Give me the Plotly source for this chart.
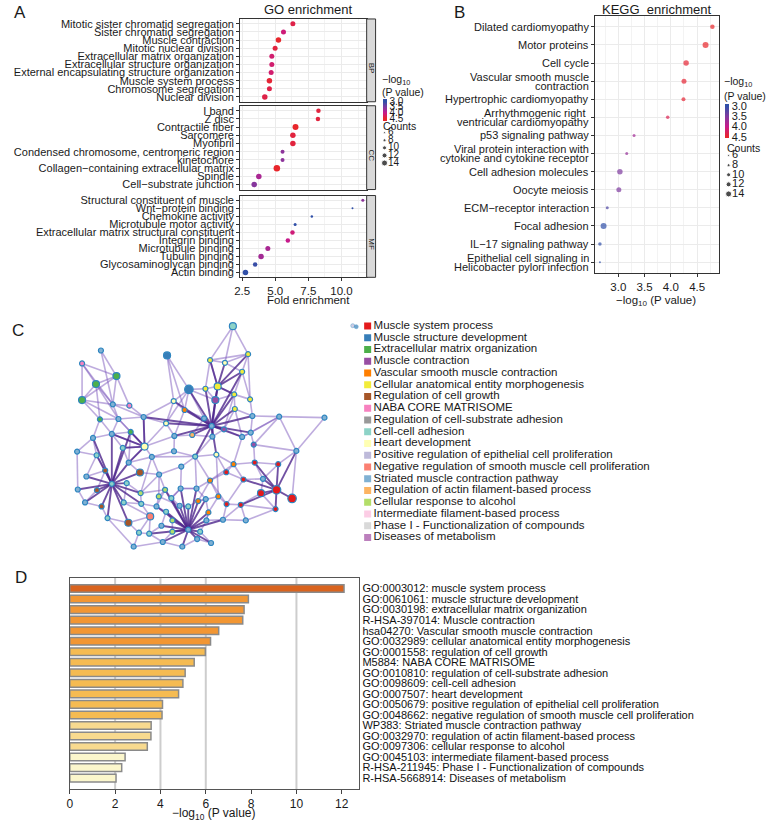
import plotly.graph_objects as go

W, H = 767, 824
FONT = "Liberation Sans, Arial, sans-serif"
MINUS = "\u2212"


def px(x):
    return x / W


def py(y):
    return 1 - y / H


# ---------------- Panel A : GO enrichment (facets BP / CC / MF) ----------------
bp_terms = ["Mitotic sister chromatid segregation", "Sister chromatid segregation", "Muscle contraction",
            "Mitotic nuclear division", "Extracellular matrix organization", "Extracellular structure organization",
            "External encapsulating structure organization", "Muscle system process", "Chromosome segregation",
            "Nuclear division"]
bp_fold = [6.33, 5.62, 5.24, 4.99, 4.74, 4.74, 4.69, 4.56, 4.56, 4.21]
bp_logp = [4.35, 4.10, 4.55, 4.40, 4.15, 4.15, 4.15, 4.45, 4.35, 4.35]
bp_count = [12, 12, 13, 12, 12, 12, 12, 13, 12, 13]

cc_terms = ["I band", "Z disc", "Contractile fiber", "Sarcomere", "Myofibril",
            "Condensed chromosome, centromeric region", "kinetochore",
            "Collagen" + MINUS + "containing extracellular matrix", "Spindle", "Cell" + MINUS + "substrate junction"]
cc_fold = [8.26, 8.22, 6.53, 6.33, 6.33, 5.55, 5.55, 5.12, 3.76, 3.41]
cc_logp = [4.40, 4.40, 4.50, 4.40, 4.40, 3.60, 3.60, 4.70, 3.80, 3.55]
cc_count = [11, 11, 14, 13, 13, 10, 10, 15, 13, 13]

mf_terms = ["Structural constituent of muscle", "Wnt" + MINUS + "protein binding", "Chemokine activity",
            "Microtubule motor activity", "Extracellular matrix structural constituent", "Integrin binding",
            "Microtubule binding", "Tubulin binding", "Glycosaminoglycan binding", "Actin binding"]
mf_fold = [11.61, 10.83, 7.76, 6.50, 6.30, 5.95, 4.44, 3.93, 3.48, 2.75]
mf_logp = [3.60, 2.95, 2.95, 3.00, 4.10, 4.00, 3.80, 3.75, 3.05, 2.95]
mf_count = [8, 6, 7, 8, 11, 11, 12, 13, 11, 13]

facet_names = ["BP", "CC", "MF"]
fold_ticks = [2.5, 5.0, 7.5, 10.0]
fold_minor = [3.75, 6.25, 8.75, 11.25]

# ---------------- Panel B : KEGG enrichment ----------------
kegg_terms = ["Dilated cardiomyopathy", "Motor proteins", "Cell cycle", "Vascular smooth muscle\ncontraction",
              "Hypertrophic cardiomyopathy", "Arrhythmogenic right \nventricular cardiomyopathy",
              "p53 signaling pathway", "Viral protein interaction with\ncytokine and cytokine receptor",
              "Cell adhesion molecules", "Oocyte meiosis", "ECM" + MINUS + "receptor interaction", "Focal adhesion",
              "IL" + MINUS + "17 signaling pathway", "Epithelial cell signaling in\nHelicobacter pylori infection"]
kegg_logp = [4.79, 4.66, 4.29, 4.25, 4.24, 3.94, 3.30, 3.16, 3.03, 3.01, 2.79, 2.72, 2.65, 2.65]
kegg_color = [4.70, 4.60, 4.45, 4.45, 4.45, 4.30, 3.75, 3.65, 3.50, 3.50, 3.20, 3.00, 3.00, 3.00]
kegg_count = [11, 14, 13, 12, 10, 9, 8, 8, 13, 12, 8, 14, 9, 6]
kegg_ticks = [3.0, 3.5, 4.0, 4.5]
kegg_minor = [2.75, 3.25, 3.75, 4.25, 4.75]

legend_counts = [6, 8, 10, 12, 14]
legend_logp = [3.0, 3.5, 4.0, 4.5]

# ---------------- Panel C : network + legend ----------------
net_groups = ["Muscle system process", "Muscle structure development", "Extracellular matrix organization",
              "Muscle contraction", "Vascular smooth muscle contraction", "Cellular anatomical entity morphogenesis",
              "Regulation of cell growth", "NABA CORE MATRISOME", "Regulation of cell-substrate adhesion",
              "Cell-cell adhesion", "Heart development", "Positive regulation of epithelial cell proliferation",
              "Negative regulation of smooth muscle cell proliferation", "Striated muscle contraction pathway",
              "Regulation of actin filament-based process", "Cellular response to alcohol",
              "Intermediate filament-based process", "Phase I - Functionalization of compounds",
              "Diseases of metabolism"]
net_colors = ["#e41a1c", "#377eb8", "#4daf4a", "#984ea3", "#ff7f00", "#f2ec3a", "#a65628", "#f781bf", "#999999",
              "#8dd3c7", "#ffffb3", "#bebada", "#fb8072", "#80b1d3", "#fdb462", "#b3de69", "#fccde5", "#d9d9d9",
              "#bc80bd"]

# (layout x, layout y, group index, size class 1=small 2=medium 3=large)
network_nodes = [
    (686, 48, 9, 2), (287, 121, 13, 1), (487, 136, 1, 2), (230, 160, 7, 1), (334, 198, 2, 2),
    (272, 222, 2, 2), (230, 270, 2, 2), (553, 238, 1, 3), (640, 229, 5, 2), (603, 236, 5, 1),
    (617, 150, 5, 1), (662, 158, 10, 1), (732, 132, 5, 1), (714, 185, 5, 1), (633, 270, 3, 2),
    (507, 273, 10, 1), (323, 283, 13, 1), (373, 287, 7, 1), (284, 328, 2, 1), (340, 327, 13, 1),
    (416, 321, 13, 1), (484, 340, 10, 1), (540, 300, 4, 1), (599, 325, 13, 1), (622, 348, 13, 1),
    (659, 358, 3, 1), (692, 297, 5, 1), (738, 268, 5, 1), (690, 253, 5, 1), (745, 318, 13, 1),
    (826, 320, 13, 1), (963, 323, 13, 1), (878, 423, 13, 1), (263, 384, 13, 1), (320, 372, 13, 1),
    (377, 366, 2, 1), (419, 410, 10, 2), (353, 414, 9, 1), (215, 425, 13, 1), (274, 436, 9, 1),
    (441, 441, 13, 1), (509, 378, 13, 1), (563, 375, 14, 1), (624, 380, 13, 1), (572, 440, 9, 1),
    (636, 434, 10, 1), (714, 381, 13, 1), (740, 368, 13, 1), (749, 404, 3, 1), (371, 458, 13, 1),
    (405, 488, 6, 2), (300, 482, 6, 1), (243, 500, 13, 1), (217, 539, 13, 1), (275, 541, 6, 1),
    (320, 522, 9, 1), (365, 520, 9, 1), (463, 494, 13, 1), (239, 578, 13, 1), (289, 590, 6, 1),
    (356, 578, 9, 1), (407, 550, 15, 1), (409, 582, 9, 1), (307, 625, 9, 1), (370, 639, 6, 2),
    (436, 620, 12, 2), (402, 669, 9, 1), (386, 711, 13, 1), (455, 590, 13, 1), (481, 540, 15, 1),
    (500, 565, 9, 1), (528, 536, 13, 1), (576, 536, 13, 1), (617, 512, 4, 1), (666, 487, 0, 1),
    (688, 463, 4, 1), (718, 509, 0, 1), (752, 458, 0, 1), (777, 507, 13, 1), (823, 463, 0, 1),
    (771, 550, 0, 2), (818, 540, 0, 3), (865, 566, 0, 3), (815, 598, 0, 1), (725, 632, 13, 1),
    (710, 585, 0, 1), (667, 583, 0, 1), (642, 560, 4, 1), (604, 568, 13, 1), (581, 574, 4, 1),
    (551, 590, 9, 1), (525, 588, 13, 1), (484, 606, 9, 1), (503, 632, 15, 1), (551, 660, 13, 1),
    (587, 666, 9, 1), (578, 688, 13, 1), (612, 608, 4, 1), (606, 632, 13, 1), (656, 630, 13, 1),
    (503, 666, 15, 1), (474, 697, 13, 1), (533, 711, 13, 1), (620, 700, 13, 1), (433, 672, 9, 1),
    (470, 648, 13, 1), (462, 560, 15, 1), (508, 424, 13, 1), (530, 470, 13, 1),
]

# strong links: hub node -> partners (1-based node numbers)
hub_edges = {
    25: [15, 24, 26, 27, 22, 23, 43, 44, 45, 46, 47, 42, 16, 9, 10, 8, 21, 48, 30, 14, 29],
    56: [52, 53, 54, 55, 57, 59, 60, 61, 62, 50, 38, 40, 34, 35, 64, 63, 51, 36, 65],
    95: [91, 92, 93, 94, 96, 97, 98, 99, 100, 101, 102, 103, 104, 105, 106, 89, 90, 69, 70, 71, 72, 73],
    82: [80, 81, 83, 84, 79, 77, 78, 86, 33],
    37: [35, 36, 38, 21, 50],
    9: [11, 12, 13, 14, 29, 15],
}
# weaker links (1-based node numbers)
link_edges = [
    (4, 6), (4, 7), (4, 5), (5, 6), (6, 7), (5, 7), (2, 5), (5, 17), (6, 17), (7, 17), (17, 18), (17, 20),
    (19, 20), (6, 19), (5, 18), (7, 20), (1, 11), (1, 13), (1, 12), (11, 12), (12, 13), (13, 14), (11, 10),
    (10, 9), (9, 15), (15, 29), (9, 29), (13, 28), (14, 28), (28, 29), (16, 8), (3, 8), (8, 15), (8, 24),
    (16, 23), (23, 24), (29, 27), (27, 30), (28, 30), (74, 76), (75, 76), (76, 78), (75, 77), (77, 79),
    (78, 80), (79, 81), (81, 84), (84, 86), (86, 87), (87, 88), (88, 74), (77, 87), (85, 86), (85, 100),
    (76, 47), (78, 49), (49, 48), (31, 49), (31, 33), (32, 33), (31, 32), (33, 83), (33, 80), (48, 31),
    (75, 46), (37, 21), (37, 41), (37, 42), (37, 38), (37, 36), (37, 35), (22, 42), (22, 21), (21, 20),
    (41, 58), (58, 51), (51, 50), (50, 38), (41, 62), (62, 63), (63, 69), (69, 70), (70, 71), (71, 72),
    (72, 73), (73, 74), (45, 73), (45, 46), (44, 45), (46, 88), (109, 58), (109, 72), (109, 45), (16, 22),
    (3, 16), (41, 45), (58, 70), (107, 70), (107, 69), (107, 92), (65, 66), (66, 67), (67, 68), (64, 65),
    (66, 105), (105, 102), (61, 66), (63, 66), (57, 62), (36, 50), (34, 39), (39, 40), (40, 53), (39, 54),
    (35, 36), (34, 35), (20, 35), (19, 34), (88, 90), (89, 98), (98, 99), (99, 100), (86, 100), (90, 74),
    (87, 74), (108, 42), (108, 45), (108, 41), (20, 36), (8, 22), (15, 44), (26, 47), (24, 43),
    (2, 17), (4, 17), (6, 20), (7, 19), (19, 35), (17, 21), (18, 21), (20, 37), (21, 16), (22, 37),
    (3, 23), (8, 23), (8, 10), (9, 11), (10, 15), (11, 13), (12, 14), (14, 29), (29, 26), (26, 27),
    (27, 47), (30, 48), (30, 31), (31, 47), (44, 26), (43, 44), (42, 43), (23, 42), (41, 50), (37, 50),
    (38, 35), (34, 40), (40, 52), (52, 53), (52, 55), (55, 59), (59, 60), (60, 64), (54, 59), (57, 61),
    (61, 63), (62, 70), (62, 58), (58, 107), (69, 93), (93, 94), (94, 101), (101, 102), (102, 103),
    (103, 97), (97, 104), (104, 96), (96, 99), (99, 98), (98, 88), (90, 89), (89, 73), (73, 72), (72, 71),
    (71, 92), (92, 91), (91, 90), (100, 87), (85, 84), (81, 86), (80, 79), (78, 79), (76, 77), (75, 74),
    (74, 45), (46, 76), (47, 48), (49, 33), (105, 106), (106, 93), (67, 105), (65, 67), (64, 68), (68, 102),
]

# ---------------- Panel D : Metascape bar chart ----------------
d_terms = ["GO:0003012: muscle system process", "GO:0061061: muscle structure development",
           "GO:0030198: extracellular matrix organization", "R-HSA-397014: Muscle contraction",
           "hsa04270: Vascular smooth muscle contraction", "GO:0032989: cellular anatomical entity morphogenesis",
           "GO:0001558: regulation of cell growth", "M5884: NABA CORE MATRISOME",
           "GO:0010810: regulation of cell-substrate adhesion", "GO:0098609: cell-cell adhesion",
           "GO:0007507: heart development", "GO:0050679: positive regulation of epithelial cell proliferation",
           "GO:0048662: negative regulation of smooth muscle cell proliferation",
           "WP383: Striated muscle contraction pathway", "GO:0032970: regulation of actin filament-based process",
           "GO:0097306: cellular response to alcohol", "GO:0045103: intermediate filament-based process",
           "R-HSA-211945: Phase I - Functionalization of compounds", "R-HSA-5668914: Diseases of metabolism"]
d_logp = [12.10, 7.88, 7.69, 7.63, 6.57, 6.21, 5.98, 5.49, 5.09, 4.99, 4.80, 4.09, 4.07, 3.59, 3.58, 3.42,
          2.44, 2.29, 2.04]
d_ticks = [0, 2, 4, 6, 8, 10, 12]
d_grid = [2, 4, 6, 10]


# ---------------- helpers ----------------
def count_size(c):
    return 2.0 + (c - 6) * 0.5


def colorscale(lo, hi):
    # colours are mapped on the negated value so that the colour bar reads 3.0 at top
    stops = [(4.5, "#e8262b"), (4.0, "#c71a8b"), (3.5, "#7f3a9f"), (3.0, "#3150a8")]
    cs = [[0.0, "#e8262b"]]
    for v, c in stops:
        p = (hi - v) / (hi - lo)
        if 0 < p < 1:
            cs.append([p, c])
    cs.append([1.0, "#3150a8"])
    return cs


def bar_color(v):
    if v >= 10:
        return "#d9631e"
    if v >= 6:
        return "#f29633"
    if v >= 4:
        return "#f5bb52"
    if v >= 3:
        return "#f8da8f"
    return "#fbf6cc"


fig = go.Figure()
annotations = []
shapes = []
TXT = "#1a1a1a"

# ---- Panel A traces / axes
a_facets = [(bp_terms, bp_fold, bp_logp, bp_count), (cc_terms, cc_fold, cc_logp, cc_count),
            (mf_terms, mf_fold, mf_logp, mf_count)]
a_rows = [(18, 101), (105, 189), (195, 277)]
A_X0, A_X1 = 236, 363.5
for i, (terms, fold, logp, cnt) in enumerate(a_facets):
    n = "" if i == 0 else str(i + 1)
    fig.add_trace(go.Scatter(
        x=fold, y=terms, mode="markers", showlegend=False, xaxis="x" + n, yaxis="y" + n,
        marker=dict(size=[count_size(c) for c in cnt], color=[-v for v in logp], coloraxis="coloraxis",
                    line=dict(width=0), opacity=1)))
    top, bot = a_rows[i]
    last = i == 2
    fig.update_layout(**{
        "xaxis" + n: dict(domain=[px(A_X0), px(A_X1)], range=[2.35, 11.9], anchor="y" + n,
                          tickvals=fold_ticks, ticktext=["%.1f" % t for t in fold_ticks],
                          showticklabels=last, ticks="outside" if last else "", ticklen=3, tickcolor="#333",
                          showgrid=True, gridcolor="#ebebeb", gridwidth=1, zeroline=False,
                          minor=dict(tickvals=fold_minor, showgrid=True, gridcolor="#f3f3f3", gridwidth=0.6),
                          showline=True, mirror=True, linecolor="#333", linewidth=1,
                          tickfont=dict(size=11.5, color=TXT)),
        "yaxis" + n: dict(domain=[py(bot), py(top)], anchor="x" + n, type="category",
                          categoryorder="array", categoryarray=terms, range=[9.6, -0.6],
                          tickmode="array", tickvals=terms, ticks="outside", ticklen=3, tickcolor="#333",
                          showgrid=True, gridcolor="#ebebeb", gridwidth=1, zeroline=False,
                          showline=True, mirror=True, linecolor="#333", linewidth=1,
                          tickfont=dict(size=11, color=TXT)),
    })
    shapes.append(dict(type="rect", xref="paper", yref="paper", x0=px(A_X1), x1=px(372.5),
                       y0=py(bot), y1=py(top), fillcolor="#d9d9d9", line=dict(color="#333", width=1)))
    annotations.append(dict(x=px(368), y=py((top + bot) / 2), xref="paper", yref="paper",
                            text=facet_names[i], textangle=90, showarrow=False,
                            font=dict(size=8, color=TXT)))

# ---- Panel B
kegg_y = list(range(len(kegg_terms)))
fig.add_trace(go.Scatter(
    x=kegg_logp, y=kegg_y, mode="markers", showlegend=False, xaxis="x4", yaxis="y4",
    marker=dict(size=[count_size(c) for c in kegg_count], color=[-v for v in kegg_color],
                coloraxis="coloraxis2", line=dict(width=0))))
B_X0, B_X1, B_Y0, B_Y1 = 593.3, 718.3, 15, 272.7
fig.update_layout(
    xaxis4=dict(domain=[px(B_X0), px(B_X1)], range=[2.55, 4.91], anchor="y4",
                tickvals=kegg_ticks, ticktext=["%.1f" % t for t in kegg_ticks], ticks="outside", ticklen=3,
                tickcolor="#333", showgrid=True, gridcolor="#ebebeb", gridwidth=1, zeroline=False,
                minor=dict(tickvals=kegg_minor, showgrid=True, gridcolor="#f3f3f3", gridwidth=0.6),
                showline=True, mirror=True, linecolor="#333", linewidth=1, tickfont=dict(size=11.5, color=TXT)),
    yaxis4=dict(domain=[py(B_Y1), py(B_Y0)], anchor="x4", range=[13.6, -0.6], tickvals=kegg_y,
                showticklabels=False, ticks="outside", ticklen=3, tickcolor="#333", showgrid=True,
                gridcolor="#ebebeb", gridwidth=1, zeroline=False, showline=True, mirror=True,
                linecolor="#333", linewidth=1),
)
for i, term in enumerate(kegg_terms):
    lines = term.split("\n")
    shifts = [0] if len(lines) == 1 else [4.6, -4.6]
    for ln, sh in zip(lines, shifts):
        annotations.append(dict(x=px(589.5), y=i, xref="paper", yref="y4", text=ln, xanchor="right",
                                yanchor="middle", yshift=sh, showarrow=False, font=dict(size=11, color=TXT)))

# ---- colour axes (colour bars)
fig.update_layout(
    coloraxis=dict(cmin=-4.74, cmax=-2.76, colorscale=colorscale(2.76, 4.74),
                   colorbar=dict(x=px(380), xanchor="left", y=py(109), yanchor="middle", len=22,
                                 lenmode="pixels", thickness=4, thicknessmode="pixels", xpad=0, ypad=0,
                                 outlinewidth=0, tickvals=[-v for v in legend_logp],
                                 ticktext=["%.1f" % v for v in legend_logp], ticks="",
                                 tickfont=dict(size=10, color=TXT), title=dict(text=""))),
    coloraxis2=dict(cmin=-4.55, cmax=-2.9, colorscale=colorscale(2.9, 4.55),
                    colorbar=dict(x=px(724.5), xanchor="left", y=py(120), yanchor="middle", len=34,
                                  lenmode="pixels", thickness=4, thicknessmode="pixels", xpad=0, ypad=0,
                                  outlinewidth=0, tickvals=[-v for v in legend_logp],
                                  ticktext=["%.1f" % v for v in legend_logp], ticks="",
                                  tickfont=dict(size=11, color=TXT), title=dict(text=""))),
)

# ---- size legends on an overlay axis in page pixels
a_leg_rows = [132, 139.6, 147.2, 154.8, 162.4]
b_leg_rows = [155, 164.6, 174.2, 183.8, 193.4]
for (lx, rows, fs) in [(381.5, a_leg_rows, 10), (728.3, b_leg_rows, 11)]:
    fig.add_trace(go.Scatter(x=[lx] * len(legend_counts), y=rows, mode="markers", showlegend=False,
                             xaxis="x8", yaxis="y8", hoverinfo="skip",
                             marker=dict(size=[count_size(c) for c in legend_counts], color="black")))
    fig.add_trace(go.Scatter(x=[lx + 3.5] * len(legend_counts), y=rows, mode="text", showlegend=False,
                             xaxis="x8", yaxis="y8", hoverinfo="skip", cliponaxis=False,
                             text=[str(c) for c in legend_counts], textposition="middle right",
                             textfont=dict(size=fs, color=TXT, family=FONT)))
# small network icon next to panel C legend
fig.add_trace(go.Scatter(x=[349.5, 353], y=[325.5, 326.5], mode="markers", showlegend=False, xaxis="x8",
                         yaxis="y8", hoverinfo="skip",
                         marker=dict(size=[4, 4], color=["#bebada", "#377eb8"], line=dict(width=0.6, color="#2f86c0"))))

leg_txt = [("\u2212log<sub>10</sub>", 376.5, 79, 10.5), ("(P value)", 376.5, 91, 10.5),
           ("Counts", 377.5, 125, 10.5),
           ("\u2212log<sub>10</sub>", 722, 81, 10.5), ("(P value)", 722, 95, 10.5), ("Counts", 724.5, 147.5, 10.5)]
for t, x, y, fs in leg_txt:
    annotations.append(dict(x=px(x), y=py(y), xref="paper", yref="paper", text=t, xanchor="left",
                            yanchor="middle", showarrow=False, font=dict(size=fs, color=TXT)))

# ---- Panel C network
hub_list = []
for h, partners in hub_edges.items():
    for p in partners:
        hub_list.append((h, p))
edge_sets = [(link_edges, "rgba(125,90,190,0.50)", 1.6), (hub_list, "rgba(78,38,140,0.80)", 1.9)]
for elist, col, wd in edge_sets:
    ex, ey = [], []
    for a, b in elist:
        na, nb = network_nodes[a - 1], network_nodes[b - 1]
        ex += [na[0], nb[0], None]
        ey += [na[1], nb[1], None]
    fig.add_trace(go.Scatter(x=ex, y=ey, mode="lines", showlegend=False, xaxis="x5", yaxis="y5",
                             hoverinfo="skip", line=dict(color=col, width=wd)))
size_px = {1: 5, 2: 7, 3: 8.5}
fig.add_trace(go.Scatter(
    x=[n[0] for n in network_nodes], y=[n[1] for n in network_nodes], mode="markers", showlegend=False,
    xaxis="x5", yaxis="y5",
    marker=dict(size=[size_px[n[3]] for n in network_nodes], color=[net_colors[n[2]] for n in network_nodes],
                line=dict(color="#2f86c0", width=1.2), opacity=1)))
fig.update_layout(
    xaxis5=dict(domain=[0, px(330)], range=[0, 990], anchor="y5", visible=False),
    yaxis5=dict(domain=[py(550), py(310)], range=[720, 0], anchor="x5", visible=False),
)

# ---- Panel C legend
leg_idx = list(range(len(net_groups)))
fig.add_trace(go.Scatter(x=[364.5] * len(net_groups), y=leg_idx, mode="markers", showlegend=False,
                         xaxis="x6", yaxis="y6", hoverinfo="skip",
                         marker=dict(symbol="square", size=7, color=net_colors, line=dict(width=0))))
fig.add_trace(go.Scatter(x=[370.5] * len(net_groups), y=leg_idx, mode="text", showlegend=False,
                         xaxis="x6", yaxis="y6", hoverinfo="skip", cliponaxis=False, text=net_groups,
                         textposition="middle right", textfont=dict(size=11.5, color=TXT, family=FONT)))
C_ROW0, C_ROWSTEP = 325.7, 11.78
fig.update_layout(
    xaxis6=dict(domain=[px(340), 1], range=[340, 767], anchor="y6", visible=False),
    yaxis6=dict(domain=[py(548), py(316)], range=[(548 - C_ROW0) / C_ROWSTEP, (316 - C_ROW0) / C_ROWSTEP],
                anchor="x6", visible=False),
)

# ---- Panel D bars
fig.add_trace(go.Bar(x=d_logp, y=d_terms, orientation="h", showlegend=False, xaxis="x7", yaxis="y7",
                     width=0.72, marker=dict(color=[bar_color(v) for v in d_logp],
                                             line=dict(color="#8a8a8a", width=1.5))))
fig.update_layout(
    xaxis7=dict(domain=[px(64.3), px(356)], range=[0, 12.77], anchor="y7", tickvals=d_ticks,
                ticks="outside", ticklen=4, tickcolor="#444", showgrid=False, zeroline=False,
                showline=True, mirror=True, linecolor="#555", linewidth=1, tickfont=dict(size=12, color=TXT)),
    yaxis7=dict(domain=[py(790), py(578.3)], anchor="x7", side="right", type="category",
                categoryorder="array", categoryarray=d_terms, range=[19.04, -1.01], tickmode="array",
                tickvals=d_terms, ticks="", showgrid=False, zeroline=False, showline=True, mirror=True,
                linecolor="#555", linewidth=1, tickfont=dict(size=11, color="#111")),
)
for gx in d_grid:
    shapes.append(dict(type="line", xref="x7", yref="y7 domain", x0=gx, x1=gx, y0=0, y1=1,
                       line=dict(color="#cdcdcd", width=2), layer="below"))

# overlay axis in page pixels (for legend symbols)
fig.update_layout(
    xaxis8=dict(domain=[0, 1], range=[0, W], anchor="y8", visible=False, fixedrange=True),
    yaxis8=dict(domain=[0, 1], range=[H, 0], anchor="x8", visible=False, fixedrange=True),
)

# ---- titles, axis titles, panel letters
text_items = [
    ("A", 6, 12, 17, "left"), ("B", 450, 12, 17, "left"), ("C", 4, 330, 17, "left"), ("D", 7, 578, 17, "left"),
    ("GO enrichment", 305, 9, 13, "center"), ("KEGG\u00a0\u00a0enrichment", 656, 9, 13, "center"),
    ("Fold enrichment", 305, 300, 11.5, "center"),
    ("\u2212log<sub>10</sub> (P value)", 655, 301, 11.5, "center"),
    ("\u2212log<sub>10</sub> (P value)", 210, 815, 12, "center"),
]
for t, x, y, fs, anc in text_items:
    annotations.append(dict(x=px(x), y=py(y), xref="paper", yref="paper", text=t, xanchor=anc,
                            yanchor="middle", showarrow=False, font=dict(size=fs, color=TXT)))

fig.update_layout(
    width=W, height=H, autosize=False, margin=dict(l=0, r=0, t=0, b=0),
    paper_bgcolor="white", plot_bgcolor="rgba(0,0,0,0)",
    font=dict(family=FONT, color=TXT), showlegend=False,
    annotations=annotations, shapes=shapes,
)

fig.write_html("out.html", config={"displayModeBar": False},
               post_script="document.body.style.margin='0px';document.body.style.overflow='hidden';")
